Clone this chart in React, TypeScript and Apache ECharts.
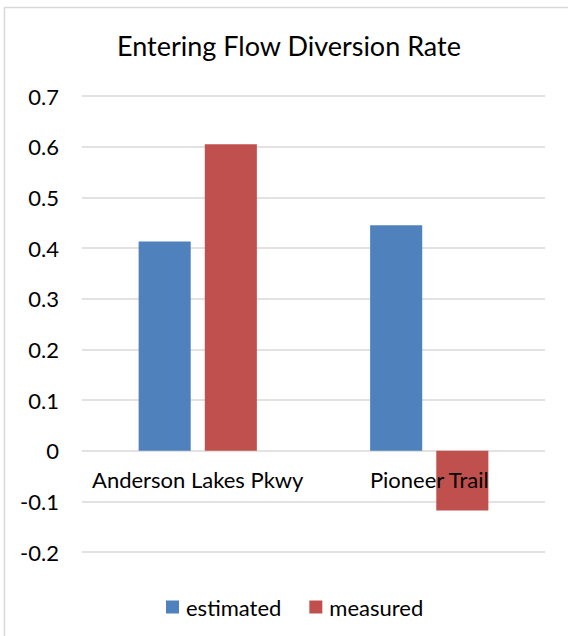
import React, { useEffect, useRef } from "react";
import * as echarts from "echarts";

const categories = ["Anderson Lakes Pkwy", "Pioneer Trail"];
const estimated = [0.413, 0.445];
const measured = [0.605, -0.118];
const seriesNames = ["estimated", "measured"];
const titleText = "Entering Flow Diversion Rate";

const FONT = "Lato, 'Open Sans', sans-serif";

export default function App() {
  const ref = useRef<HTMLDivElement>(null);
  useEffect(() => {
    if (!ref.current) return;
    const chart = echarts.init(ref.current, undefined, { renderer: "svg" });
    chart.setOption({
      animation: false,
      backgroundColor: "#ffffff",
      textStyle: { fontFamily: FONT },
      title: {
        text: titleText,
        left: 284,
        textAlign: "center",
        top: 27,
        textStyle: { fontFamily: FONT, fontSize: 27, fontWeight: "normal", color: "#000" },
      },
      graphic: [
        {
          type: "rect",
          shape: { x: 4.5, y: 7.5, width: 700, height: 800 },
          style: { fill: "none", stroke: "#d9d9d9", lineWidth: 1.5 },
          silent: true,
        },
      ],
      legend: {
        data: seriesNames,
        left: 161,
        top: 591,
        itemWidth: 13,
        itemHeight: 13,
        itemGap: 28,
        icon: "rect",
        textStyle: { fontFamily: FONT, fontSize: 22, color: "#000", padding: [0, 0, 0, 2] },
      },
      grid: { left: 82, right: 23, top: 96, bottom: 84, containLabel: false },
      xAxis: {
        type: "category",
        data: categories,
        z: 10,
        axisLine: { show: false, onZero: false },
        axisTick: { show: false },
        axisLabel: { interval: 0, margin: -84, fontFamily: FONT, fontSize: 22, color: "#000" },
      },
      yAxis: {
        type: "value",
        min: -0.2,
        max: 0.7,
        interval: 0.1,
        axisLine: { show: false },
        axisTick: { show: false },
        splitLine: { lineStyle: { color: "#d9d9d9", width: 1.5 } },
        axisLabel: {
          margin: 23,
          fontFamily: FONT,
          fontSize: 22,
          color: "#000",
          formatter: (v: number) => (Math.abs(v) < 1e-9 ? "0" : v.toFixed(1)),
        },
      },
      series: [
        {
          name: seriesNames[0],
          type: "bar",
          data: estimated,
          barWidth: "22.5%",
          barGap: "27%",
          itemStyle: { color: "#4F81BD" },
        },
        {
          name: seriesNames[1],
          type: "bar",
          data: measured,
          barWidth: "22.5%",
          barGap: "27%",
          itemStyle: { color: "#C0504D" },
        },
      ],
    });
    return () => chart.dispose();
  }, []);
  return (
    <div
      ref={ref}
      style={{ position: "fixed", left: 0, top: 0, width: 568, height: 636 }}
    />
  );
}
